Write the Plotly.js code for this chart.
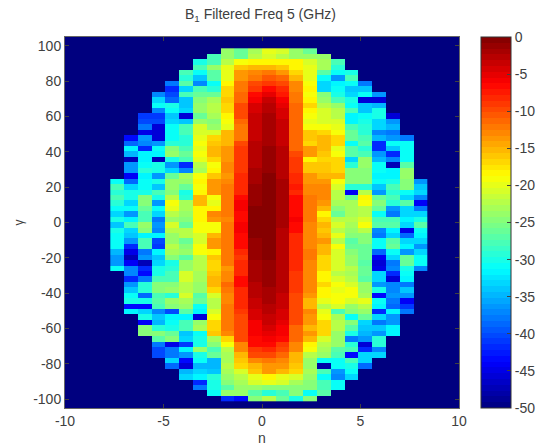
<!DOCTYPE html>
<html><head><meta charset="utf-8">
<script src="https://cdn.plot.ly/plotly-3.0.1.min.js"></script>
<style>html,body{margin:0;padding:0;background:#fff}</style></head>
<body><div id="chart" style="width:546px;height:447px"></div>
<script>
const titleText = 'B<sub>1</sub> Filtered Freq 5 (GHz)';
const colorTicks = [0,-5,-10,-15,-20,-25,-30,-35,-40,-45,-50];
const axisTicksX = [-10,-5,0,5,10];
const axisTicksY = [100,80,60,40,20,0,-20,-40,-60,-80,-100];
const columnCount = 23;
const firstCol = [8,7,6,6,5,5,4,4,3,3,3,3,2,2,2,2,1,1,1,1,1,1,1,1,0,0,0,0,0,0,0,0,0,0,0,0,0,0,0,0,0,1,1,1,1,1,1,1,1,2,2,2,2,3,3,3,3,4,4,5,5,6,6,7,8];
const zRows = [
[-24,-26,-23,-20,-21,-24,-26],
[-28,-24,-26,-22,-21,-22,-24,-24,-24],
[-30,-28,-22,-19,-18,-18,-18,-18,-21,-23,-28],
[-28,-24,-20,-16,-15,-15,-16,-18,-20,-23,-29],
[-28,-31,-27,-20,-14,-13,-12.5,-13.5,-17,-20,-27,-31,-30],
[-29,-34,-27,-20,-14,-12,-10.5,-11,-15,-20,-31,-36,-28],
[-38,-27,-37,-31,-18,-12,-10,-9,-9.5,-13,-19,-33,-32,-31,-38],
[-42,-33,-28,-29,-17,-12,-9,-7,-8.5,-13,-18,-33,-31,-34,-34],
[-37,-40,-28,-26,-26,-17,-11,-7,-5,-7.5,-12,-19,-25,-30,-33,-31,-36],
[-33,-39,-34,-25,-23,-16,-11,-5.5,-3.8,-6,-12,-18,-24,-28,-30,-46,-46],
[-31,-30,-34,-24,-22,-17,-10,-4.5,-3,-5,-11,-17,-22,-24,-31,-34,-35],
[-37,-31,-33,-24,-22,-17,-10,-4,-2.8,-4.5,-11,-18,-21,-22,-28,-34,-30],
[-41,-41,-34,-46,-26,-23,-18,-10,-3.8,-2.3,-4,-11,-19,-21,-22,-32,-31,-30,-46],
[-40,-40,-33,-34,-24,-25,-19,-11,-3.5,-2.1,-3.8,-11,-20,-21,-21,-32,-30,-33,-36],
[-38,-46,-31,-28,-21,-24,-20,-12,-3.3,-2,-3.5,-11,-19,-19,-20,-28,-29,-33,-35],
[-45,-46,-31,-28,-21,-21,-15,-12,-3.2,-1.9,-3.3,-11,-16,-17,-19,-26,-29,-37,-38],
[-43,-36,-46,-31,-29,-20,-17,-15,-12,-3.2,-1.8,-3.2,-11,-16,-15,-17,-26,-28,-35,-36,-38],
[-39,-37,-36,-29,-29,-19,-16,-15,-10,-3.1,-1.6,-3.2,-11,-17,-15,-17,-31,-27,-42,-31,-31],
[-32,-42,-31,-25,-28,-20,-15,-14,-9,-3,-1.4,-3.1,-11,-14,-15,-20,-27,-29,-42,-34,-31],
[-35,-32,-32,-24,-26,-19,-15,-14,-9,-2.9,-1.2,-3,-10,-14,-16,-19,-27,-28,-36,-42,-31],
[-47,-32,-47,-30,-28,-20,-17,-14,-9,-2.7,-1.1,-2.9,-9,-18,-17,-17,-33,-24,-35,-37,-31],
[-36,-31,-30,-36,-42,-22,-19,-13,-9,-2.5,-0.9,-2.8,-9,-16,-16,-17,-29,-24,-31,-47,-27],
[-36,-29,-30,-33,-37,-23,-18,-13,-9,-2.3,-0.8,-2.7,-9,-16,-16,-17,-25,-25,-31,-32,-24],
[-44,-32,-36,-26,-23,-19,-16,-14,-8,-2,-0.6,-2.5,-8,-14,-15,-15,-25,-25,-32,-32,-24],
[-31,-39,-31,-30,-24,-24,-18,-14,-13,-8,-1.7,-0.4,-2.3,-8,-14,-14,-19,-25,-25,-31,-30,-25,-36],
[-28,-33,-31,-34,-24,-26,-19,-14,-12,-8,-1.5,-0.3,-2.2,-7.5,-13,-13,-21,-29,-29,-34,-28,-25,-34],
[-29,-30,-30,-28,-25,-30,-18,-14,-12,-8,-1.3,-0.2,-2.1,-8,-13,-13,-22,-44,-22,-36,-29,-31,-33],
[-28,-30,-25,-30,-22,-29,-15,-19,-12,-7,-1.2,-0.2,-2.1,-7,-12,-13,-22,-26,-18,-26,-28,-33,-37],
[-29,-33,-25,-36,-19,-23,-15,-20,-12,-6,-1,-0.2,-2,-7,-12,-14,-23,-23,-19,-25,-29,-27,-44],
[-31,-31,-26,-31,-20,-23,-18,-18,-12,-6,-0.7,-0.1,-2.1,-7,-12,-15,-25,-23,-22,-26,-36,-33,-38],
[-33,-36,-28,-33,-22,-24,-18,-13,-12,-7,-0.4,-0.1,-2.2,-6.5,-12,-18,-26,-23,-22,-31,-38,-33,-33],
[-30,-32,-28,-38,-24,-25,-18,-14,-13,-7,-0.5,-0.2,-2.3,-6,-12.5,-17,-22,-22,-21,-28,-28,-32,-30],
[-34,-28,-24,-36,-21,-26,-19,-19,-12,-6,-0.4,-0.2,-2.3,-7,-13,-15,-21,-23,-19,-27,-27,-33,-27],
[-30,-33,-25,-37,-22,-22,-19,-19,-12,-6,-0.4,-0.2,-2.4,-7,-13,-16,-22,-24,-22,-37,-32,-45,-31],
[-31,-34,-32,-32,-24,-22,-21,-15,-12,-7,-0.4,-0.2,-2.4,-8,-13,-15,-20,-25,-25,-38,-33,-39,-32],
[-31,-36,-28,-40,-24,-26,-21,-14,-12,-7,-0.8,-0.2,-2.5,-8,-13,-14,-22,-27,-25,-31,-27,-33,-33],
[-31,-42,-28,-41,-22,-25,-19,-14,-12,-7,-1,-0.3,-2.5,-8,-13,-15,-19,-26,-26,-31,-26,-32,-36],
[-35,-45,-38,-32,-23,-24,-19,-18,-12,-8,-1.2,-0.4,-2.6,-8,-12,-15,-21,-25,-26,-39,-31,-36,-33],
[-36,-47,-36,-34,-25,-27,-22,-16,-12,-9,-1.3,-0.6,-2.6,-8,-12,-17,-21,-24,-26,-44,-33,-26,-31],
[-36,-44,-47,-33,-30,-24,-22,-17,-12,-8,-1.6,-0.8,-2.7,-8,-13,-17,-21,-24,-27,-46,-38,-26,-31],
[-31,-37,-42,-30,-29,-24,-22,-17,-14,-8,-1.8,-1,-2.8,-8,-13,-17,-21,-22,-26,-45,-37,-30,-37],
[-37,-43,-30,-28,-21,-23,-16,-13,-8,-2,-1.2,-2.9,-9,-13,-18,-22,-23,-26,-33,-42,-31],
[-42,-38,-28,-28,-21,-23,-15,-13,-7,-2.3,-1.3,-3,-9,-13,-18,-21,-22,-27,-33,-46,-32],
[-36,-29,-25,-25,-22,-24,-15,-11,-7,-2.6,-1.4,-3,-9,-13,-17,-19,-21,-24,-36,-37,-38],
[-34,-29,-25,-24,-22,-24,-17,-12,-8,-2.8,-1.6,-3.1,-9,-13,-18,-20,-19,-24,-30,-37,-34],
[-31,-39,-28,-29,-21,-27,-21,-13,-8,-3,-1.9,-3.3,-10,-13.5,-18.5,-19,-19,-23,-43,-36,-36],
[-30,-30,-27,-24,-23,-26,-22,-13,-8,-3.4,-2.2,-3.5,-10,-15,-20,-19,-21,-20,-31,-38,-44],
[-43,-43,-28,-25,-24,-31,-22,-12,-8,-3.7,-2.4,-3.8,-10,-15,-22,-21,-24,-22,-32,-39,-41],
[-32,-33,-37,-40,-27,-32,-21,-12,-9,-4,-2.8,-4.2,-10,-13,-20,-28,-25,-24,-42,-32,-38],
[-30,-34,-32,-32,-46,-19,-12,-10,-4.5,-3.2,-4.6,-9.5,-14,-19,-23,-31,-26,-33,-36],
[-44,-35,-31,-28,-24,-17,-12,-10,-5.5,-3.8,-5,-9.5,-14,-17,-22,-25,-33,-38,-36],
[-25,-29,-30,-28,-23,-17,-12,-10,-6,-4.5,-5.5,-11,-15,-17,-22,-27,-34,-34,-32],
[-25,-25,-26,-34,-31,-16,-13,-10,-6,-5,-6,-11,-14,-17,-24,-30,-35,-36,-32],
[-27,-25,-33,-30,-23,-17,-10,-6.5,-6,-7,-11,-15,-21,-24,-38,-36,-29],
[-38,-45,-41,-30,-25,-19,-13,-7,-7,-9,-13,-18,-22,-24,-29,-46,-29],
[-40,-38,-32,-24,-28,-22,-13,-9,-8,-10,-13,-19,-23,-27,-28,-42,-37],
[-40,-38,-36,-30,-26,-23,-15,-10,-10,-11,-15,-22,-24,-28,-43,-33,-33],
[-33,-43,-31,-35,-23,-16,-13,-12,-13,-15,-24,-31,-31,-28,-33],
[-39,-46,-35,-35,-22,-17,-15,-14,-14,-16,-24,-48,-31,-30,-39],
[-35,-33,-34,-23,-21,-16,-14,-15,-17,-23,-28,-36,-31],
[-33,-32,-29,-24,-22,-20,-18,-20,-21,-24,-31,-37,-33],
[-42,-30,-25,-23,-21,-20,-21,-23,-25,-28,-31],
[-38,-30,-27,-24,-24,-25,-25,-25,-25,-28,-31],
[-31,-24,-24,-27,-29,-28,-25,-31,-27],
[-42,-43,-25,-22,-26,-30,-25]
];
const z = zRows.map((vals, r) => {
  const row = new Array(columnCount).fill(null);
  vals.forEach((v, i) => { row[firstCol[r] + i] = v; });
  return row;
});
// MATLAB jet(64) stepped colour scale
function jet(t){
  const c = v => Math.round(255*Math.max(0,Math.min(1,v)));
  return 'rgb('+c(Math.min(4*t-1.5,-4*t+4.5))+','+c(Math.min(4*t-0.5,-4*t+3.5))+','+c(Math.min(4*t+0.5,-4*t+2.5))+')';
}
const scale = [];
for(let i=0;i<64;i++){ const col = jet((i+0.5)/64); scale.push([i/64,col]); scale.push([(i+1)/64,col]); }
const font = {family:'"Liberation Sans", Arial, sans-serif', size:14, color:'#404040'};
const axisBase = {ticks:'inside', ticklen:4, tickwidth:1, tickcolor:'#404040', mirror:'ticks', showline:true, linecolor:'#666666', linewidth:1, showgrid:false, zeroline:false};
Plotly.newPlot('chart', [{
  type:'heatmap', z:z, x0:-7.35, dx:0.7, y0:97.06, dy:-3.075, zmin:-50, zmax:0, zsmooth:false,
  colorscale:scale, hoverongaps:false,
  colorbar:{thickness:30, thicknessmode:'pixels', len:1, lenmode:'fraction', x:1.056, xanchor:'left', y:0.5, yanchor:'middle', xpad:0, ypad:0,
    tickvals:colorTicks, ticktext:colorTicks.map(String), ticks:'inside', ticklen:4, tickcolor:'#404040', outlinewidth:1, outlinecolor:'#333333', tickfont:font}
}], {
  width:546, height:447, paper_bgcolor:'#fff', plot_bgcolor:'#00007f', font:font,
  margin:{l:64.5, r:87, t:36.5, b:39, autoexpand:false},
  title:{text:titleText, font:{family:font.family,size:14,color:'#404040'}, x:0.477, xanchor:'center', y:0.968, yanchor:'middle'},
  xaxis:Object.assign({range:[-10,10], tickvals:axisTicksX, ticktext:axisTicksX.map(String), title:{text:'n', font:font, standoff:5}}, axisBase),
  yaxis:Object.assign({range:[-105,105], tickvals:axisTicksY, ticktext:axisTicksY.map(String), title:{text:'γ', font:{family:font.family,size:12,color:'#404040'}, standoff:6}}, axisBase)
}, {displayModeBar:false});
</script></body></html>
